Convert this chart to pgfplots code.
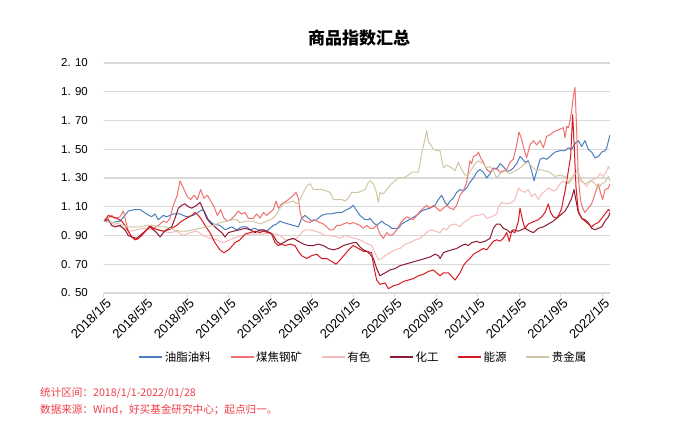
\documentclass[border=0pt]{standalone}
\usepackage{fontspec}
\setmainfont{Liberation Sans}
\newfontfamily\cjk{Noto Sans CJK SC}
\usepackage{pgfplots}
\pgfplotsset{compat=1.18}
\definecolor{cBlue}{RGB}{74,126,187}
\definecolor{cCoal}{RGB}{240,112,112}
\definecolor{cPink}{RGB}{246,186,186}
\definecolor{cDark}{RGB}{139,26,50}
\definecolor{cRed}{RGB}{215,25,32}
\definecolor{cTan}{RGB}{208,198,164}
\definecolor{cGrid}{RGB}{217,217,217}
\definecolor{cFoot}{RGB}{240,60,70}
\begin{document}
\begin{tikzpicture}
\useasboundingbox (-104bp,-130bp) rectangle (574bp,293bp);
\begin{axis}[
  at={(0,0)}, anchor=south west,
  scale only axis, width=506bp, height=230bp,
  xmin=0, xmax=48.75, ymin=0.5, ymax=2.1,
  axis x line*=bottom, axis y line*=left,
  x axis line style={draw=cGrid, line width=1bp},
  y axis line style={draw=none},
  xtick={0,4,8,12,16,20,24,28,32,36,40,44,48},
  xticklabels={2018/1/5,2018/5/5,2018/9/5,2019/1/5,2019/5/5,2019/9/5,2020/1/5,2020/5/5,2020/9/5,2021/1/5,2021/5/5,2021/9/5,2022/1/5},
  ytick={0.5,0.7,0.9,1.1,1.3,1.5,1.7,1.9,2.1},
  yticklabels={0. 50,0. 70,0. 90,1. 10,1. 30,1. 50,1. 70,1. 90,2. 10},
  xtick style={draw=cGrid, line width=1bp},
  ytick style={draw=none},
  tick align=outside, major tick length=4bp,
  ymajorgrids, grid style={draw=cGrid, line width=1.1bp},
  xticklabel style={rotate=45, anchor=north east, font=\fontsize{13bp}{15bp}\selectfont, inner sep=1bp, xshift=2bp},
  yticklabel style={font=\fontsize{11.5bp}{14bp}\selectfont, inner sep=0pt, xshift=-12bp},
  legend style={at={(0.513,-0.278)}, anchor=center, draw=none, fill=none, legend columns=6,
    font=\cjk\fontsize{11.5bp}{14bp}\selectfont,
    /tikz/every even column/.append style={column sep=17bp}},
  legend image code/.code={\draw[#1, line width=1.2bp] (0bp,0bp) -- (23bp,0bp);},
  every axis plot/.append style={line width=1bp, line join=round},
]
\addplot[cBlue] table {
0 1.00
0.8 0.99
1.54 1.00
1.9 1.03
2.34 1.07
2.9 1.08
3.47 1.08
4.11 1.05
4.59 1.03
4.91 1.05
5.23 1.01
5.72 1.04
6.04 1.03
6.68 1.05
7.32 1.05
7.96 1.03
8.61 1.04
9.25 1.07
9.5 1.08
9.73 1.06
10.05 1.01
10.53 0.98
11.18 0.97
11.66 0.94
12.30 0.96
12.78 0.94
13.26 0.96
13.75 0.96
14.07 0.94
14.55 0.95
15.03 0.93
15.35 0.94
15.67 0.93
15.99 0.95
16.31 0.97
16.64 0.98
16.96 1.00
17.28 0.99
17.76 0.98
18.24 0.97
18.72 0.96
19.04 1.02
19.37 1.04
19.69 1.02
20.01 1.00
20.49 1.01
20.97 1.04
21.45 1.05
21.93 1.05
22.42 1.06
22.90 1.06
23.38 1.08
23.70 1.09
24.02 1.11
24.28 1.08
24.66 1.04
25.15 1.01
25.47 1.01
25.63 1.02
25.95 0.99
26.27 0.97
26.59 0.99
26.75 1.00
27.08 0.98
27.40 0.97
27.72 0.95
28.04 0.95
28.36 0.95
28.68 0.98
29.16 1.00
29.64 1.02
30.13 1.04
30.61 1.07
30.93 1.08
31.41 1.09
31.89 1.11
32.21 1.15
32.53 1.18
32.86 1.13
33.08 1.11
33.34 1.14
33.66 1.16
33.98 1.20
34.30 1.22
34.62 1.21
34.94 1.23
35.26 1.27
35.59 1.30
35.91 1.34
36.23 1.36
36.55 1.34
36.87 1.30
37.19 1.33
37.51 1.37
37.83 1.36
38.15 1.40
38.47 1.38
38.80 1.35
39.12 1.35
39.44 1.37
39.76 1.40
40.08 1.45
40.24 1.44
40.56 1.41
40.88 1.42
41.20 1.35
41.43 1.28
41.69 1.35
42.01 1.43
42.33 1.44
42.65 1.43
42.97 1.45
43.45 1.48
43.93 1.49
44.42 1.49
44.74 1.51
45.06 1.50
45.38 1.54
45.70 1.56
46.02 1.52
46.34 1.56
46.66 1.50
46.98 1.48
47.31 1.44
47.63 1.45
47.95 1.48
48.27 1.49
48.43 1.51
48.75 1.60
};
\addlegendentry{油脂油料}
\addplot[cCoal] table {
0 1.00
0.74 1.04
1.06 1.02
1.54 1.03
1.86 1.07
2.34 0.93
2.67 0.89
3.15 0.87
3.63 0.90
4.10 0.94
4.43 0.96
4.75 0.95
5.23 0.97
5.72 1.00
6.04 0.99
6.36 1.02
6.68 1.11
7.06 1.18
7.32 1.28
7.71 1.22
8.03 1.17
8.35 1.15
8.67 1.18
8.99 1.15
9.31 1.22
9.63 1.16
9.96 1.18
10.28 1.14
10.60 1.10
10.92 1.04
11.24 1.08
11.56 1.02
11.88 1.00
12.20 1.01
12.62 1.04
12.94 1.07
13.26 1.05
13.59 1.06
13.91 1.02
14.39 1.02
14.71 1.05
15.03 1.02
15.35 1.06
15.67 1.04
15.99 1.06
16.31 1.08
16.57 1.14
16.80 1.09
17.12 1.12
17.60 1.14
17.92 1.16
18.24 1.18
18.50 1.20
18.72 1.16
18.88 1.07
19.04 1.02
19.37 1.00
19.85 0.99
20.17 1.01
20.49 1.00
21.13 0.98
21.77 0.94
22.10 0.94
22.42 0.97
22.74 0.97
23.06 0.98
23.38 0.99
23.70 0.98
24.02 0.99
24.35 0.98
24.67 0.97
24.99 0.95
25.31 0.97
25.63 0.95
25.95 0.95
26.27 0.97
26.59 0.91
26.91 0.88
27.24 0.92
27.56 0.90
27.88 0.91
28.20 0.94
28.52 0.98
28.84 1.01
29.16 1.03
29.48 1.02
29.81 1.01
30.13 1.04
30.45 1.07
30.77 1.09
31.09 1.11
31.41 1.09
31.73 1.11
32.05 1.09
32.38 1.07
32.70 1.09
33.02 1.11
33.34 1.09
33.66 1.08
33.98 1.11
34.30 1.18
34.62 1.21
34.94 1.27
35.26 1.42
35.42 1.40
35.59 1.45
35.91 1.46
36.07 1.48
36.29 1.44
36.55 1.41
36.87 1.36
37.19 1.34
37.51 1.36
37.83 1.37
38.15 1.34
38.47 1.35
38.80 1.36
39.12 1.41
39.44 1.43
39.76 1.53
39.98 1.62
40.24 1.57
40.47 1.50
40.72 1.44
41.04 1.53
41.37 1.56
41.69 1.53
42.01 1.56
42.33 1.51
42.65 1.59
42.97 1.60
43.29 1.62
43.61 1.63
43.93 1.64
44.25 1.65
44.42 1.58
44.58 1.66
44.74 1.65
44.90 1.70
45.06 1.77
45.22 1.87
45.38 1.93
45.54 1.63
45.70 1.30
45.92 1.14
46.12 1.09
46.34 1.06
46.66 1.09
46.98 1.12
47.31 1.19
47.63 1.26
47.79 1.21
48.04 1.15
48.27 1.22
48.59 1.23
48.75 1.26
};
\addlegendentry{煤焦钢矿}
\addplot[cPink] table {
0 1.00
0.6 0.99
1.22 0.97
1.86 0.95
2.50 0.93
3.15 0.94
3.79 0.95
4.43 0.94
5.07 0.94
5.72 0.93
6.36 0.92
7.00 0.93
7.64 0.90
8.29 0.92
8.93 0.93
9.57 0.90
10.21 0.88
10.85 0.87
11.50 0.85
12.14 0.87
12.78 0.89
13.42 0.90
14.07 0.91
14.71 0.91
15.35 0.91
15.99 0.92
16.48 0.91
16.96 0.90
17.44 0.87
17.92 0.87
18.56 0.88
19.04 0.92
19.37 0.94
19.85 0.94
20.33 0.93
20.81 0.92
21.29 0.90
21.77 0.90
22.42 0.89
22.74 0.88
23.22 0.90
23.70 0.89
24.19 0.88
24.67 0.87
25.15 0.85
25.47 0.84
25.79 0.83
26.11 0.78
26.43 0.73
26.75 0.74
27.08 0.76
27.56 0.78
28.04 0.80
28.52 0.81
29.00 0.84
29.48 0.85
29.97 0.87
30.45 0.88
30.93 0.91
31.25 0.93
31.57 0.94
31.89 0.93
32.38 0.92
32.70 0.95
33.02 0.94
33.34 0.97
33.82 0.98
34.30 0.96
34.62 0.99
35.10 1.01
35.42 1.03
35.75 1.04
36.07 1.04
36.55 1.05
36.87 1.02
37.35 1.03
37.83 1.05
37.99 1.10
38.31 1.13
38.80 1.12
39.28 1.13
39.60 1.15
39.92 1.23
40.24 1.21
40.56 1.20
40.88 1.22
41.20 1.17
41.53 1.19
41.85 1.15
42.17 1.19
42.49 1.21
42.81 1.23
43.29 1.21
43.61 1.22
43.93 1.26
44.25 1.28
44.58 1.26
45.06 1.30
45.38 1.34
45.60 1.36
45.86 1.28
46.18 1.27
46.50 1.24
46.82 1.28
47.15 1.29
47.47 1.30
47.79 1.33
48.11 1.31
48.43 1.35
48.59 1.38
48.75 1.36
};
\addlegendentry{有色}
\addplot[cDark] table {
0 1.00
0.42 1.01
0.74 0.97
1.06 0.96
1.54 0.97
2.02 0.94
2.34 0.90
2.67 0.89
3.15 0.88
3.47 0.90
3.95 0.93
4.43 0.96
4.75 0.94
5.07 0.92
5.40 0.89
5.72 0.92
6.04 0.94
6.52 0.96
6.84 1.02
7.16 1.09
7.48 1.11
7.80 1.12
8.12 1.10
8.45 1.09
8.93 1.11
9.25 1.13
9.57 1.08
9.89 1.02
10.21 0.99
10.69 0.96
11.01 0.94
11.34 0.92
11.66 0.89
11.98 0.92
12.46 0.93
13.10 0.94
13.59 0.95
14.07 0.94
14.55 0.92
15.03 0.94
15.35 0.94
15.67 0.93
15.99 0.92
16.31 0.90
16.64 0.86
16.96 0.84
17.28 0.85
17.76 0.87
18.24 0.88
18.72 0.86
19.21 0.84
19.69 0.83
20.17 0.83
20.65 0.84
21.13 0.83
21.61 0.81
22.10 0.80
22.58 0.81
23.06 0.83
23.54 0.84
24.02 0.85
24.34 0.85
24.66 0.82
24.99 0.80
25.31 0.79
25.63 0.77
25.95 0.74
26.27 0.67
26.59 0.62
27.08 0.64
27.56 0.66
28.04 0.67
28.52 0.69
29.00 0.70
29.48 0.71
29.97 0.72
30.45 0.73
30.93 0.74
31.41 0.75
31.89 0.77
32.21 0.76
32.38 0.74
32.70 0.78
33.02 0.79
33.50 0.80
33.98 0.81
34.46 0.83
34.78 0.84
35.10 0.83
35.42 0.85
35.91 0.86
36.23 0.85
36.71 0.86
37.19 0.88
37.51 0.95
37.83 0.98
38.15 0.98
38.47 0.95
38.80 0.94
39.12 0.92
39.44 0.94
39.92 0.93
40.24 0.94
40.56 0.95
41.04 0.93
41.37 0.92
41.85 0.95
42.33 0.96
42.81 0.98
43.29 1.00
43.77 1.03
44.09 1.05
44.42 1.07
44.74 1.11
45.06 1.16
45.28 1.22
45.48 1.14
45.70 1.06
46.02 1.02
46.34 1.01
46.66 0.99
46.98 0.95
47.31 0.94
47.63 0.95
47.95 0.96
48.27 1.00
48.59 1.03
48.75 1.06
};
\addlegendentry{化工}
\addplot[cRed] table {
0 1.00
0.42 1.04
0.74 1.03
1.22 1.02
1.70 1.00
2.02 0.97
2.34 0.93
2.67 0.89
2.99 0.87
3.31 0.88
3.63 0.90
4.11 0.94
4.43 0.97
4.75 0.95
5.23 0.94
5.72 0.93
6.20 0.94
6.52 0.95
7.00 0.97
7.48 1.00
7.96 1.02
8.45 1.04
8.77 1.06
9.09 1.04
9.41 1.01
9.73 0.97
10.21 0.92
10.69 0.85
11.18 0.80
11.56 0.78
11.98 0.80
12.14 0.81
12.62 0.85
13.10 0.87
13.59 0.91
14.07 0.92
14.55 0.93
15.03 0.92
15.35 0.93
15.83 0.92
16.15 0.91
16.48 0.85
16.80 0.83
17.12 0.84
17.44 0.83
17.92 0.84
18.40 0.83
18.72 0.79
19.04 0.76
19.53 0.74
20.01 0.76
20.49 0.77
20.97 0.74
21.45 0.74
21.93 0.72
22.35 0.70
22.74 0.73
23.22 0.77
23.70 0.81
24.02 0.83
24.51 0.81
24.99 0.79
25.31 0.79
25.79 0.78
25.95 0.70
26.27 0.59
26.59 0.56
27.08 0.57
27.40 0.53
27.88 0.55
28.36 0.56
28.84 0.58
29.32 0.59
29.81 0.60
30.29 0.62
30.77 0.63
31.25 0.65
31.73 0.66
32.05 0.64
32.38 0.62
32.70 0.64
33.18 0.64
33.82 0.59
34.30 0.64
34.62 0.69
34.94 0.72
35.26 0.74
35.60 0.77
36.07 0.79
36.55 0.81
36.87 0.80
37.19 0.83
37.51 0.86
37.83 0.87
38.15 0.86
38.47 0.88
38.80 0.92
39.05 0.86
39.28 0.93
39.60 0.92
39.92 1.00
40.08 1.09
40.34 1.00
40.56 0.95
40.88 0.98
41.20 0.99
41.53 1.00
41.85 1.01
42.17 1.03
42.49 1.06
42.81 1.12
43.03 1.06
43.29 1.03
43.61 1.02
43.87 1.05
44.09 1.09
44.42 1.21
44.74 1.35
44.96 1.45
45.15 1.74
45.31 1.51
45.48 1.23
45.70 1.07
46.02 1.02
46.34 1.00
46.66 0.98
46.98 0.96
47.31 0.98
47.63 0.99
47.95 1.02
48.27 1.05
48.59 1.08
48.75 1.07
};
\addlegendentry{能源}
\addplot[cTan] table {
0 1.00
0.90 0.99
1.54 0.98
2.18 0.96
2.83 0.96
3.47 0.96
4.11 0.97
4.75 0.97
5.40 0.96
6.04 0.96
6.68 0.94
7.32 0.93
7.96 0.93
8.61 0.94
9.25 0.95
9.89 0.96
10.53 0.97
11.18 0.99
11.82 1.00
12.46 1.01
12.78 1.01
13.10 0.99
13.75 1.00
14.39 1.00
15.03 0.98
15.35 0.99
15.67 1.00
15.99 1.01
16.31 1.02
16.64 1.05
16.96 1.09
17.28 1.12
17.76 1.13
18.24 1.14
18.56 1.12
18.88 1.15
19.21 1.20
19.59 1.25
19.85 1.26
20.17 1.22
20.49 1.22
20.97 1.22
21.45 1.21
21.77 1.20
22.10 1.15
22.42 1.15
22.90 1.15
23.22 1.14
23.54 1.16
23.86 1.20
24.18 1.20
24.50 1.20
24.83 1.21
25.15 1.22
25.47 1.27
25.63 1.28
25.95 1.26
26.21 1.21
26.43 1.13
26.59 1.20
26.91 1.19
27.24 1.22
27.56 1.25
27.88 1.27
28.36 1.30
28.84 1.30
29.32 1.32
29.64 1.34
29.97 1.34
30.29 1.34
30.61 1.47
30.83 1.54
31.09 1.63
31.25 1.55
31.41 1.54
31.73 1.50
32.05 1.49
32.38 1.49
32.70 1.37
33.02 1.39
33.50 1.37
33.82 1.35
34.14 1.41
34.46 1.36
34.78 1.32
35.10 1.32
35.42 1.36
35.75 1.40
36.07 1.42
36.55 1.40
36.87 1.37
37.19 1.38
37.51 1.35
37.83 1.30
38.15 1.33
38.64 1.35
39.12 1.33
39.60 1.35
40.08 1.37
40.56 1.40
40.88 1.41
41.20 1.38
41.69 1.35
42.01 1.36
42.49 1.35
42.97 1.34
43.45 1.31
43.93 1.32
44.42 1.31
44.74 1.26
45.06 1.29
45.38 1.33
45.70 1.34
46.02 1.28
46.34 1.26
46.66 1.27
46.98 1.28
47.31 1.26
47.63 1.23
47.95 1.26
48.27 1.27
48.59 1.31
48.75 1.28
};
\addlegendentry{贵金属}
\end{axis}
\node[font=\cjk\bfseries\fontsize{17bp}{19bp}\selectfont, inner sep=0pt] at (255bp,255bp) {商品指数汇总};
\node[anchor=west, text=cFoot, font=\cjk\fontsize{10.6bp}{12bp}\selectfont, inner sep=0pt] at (-64bp,-100bp) {统计区间：2018/1/1-2022/01/28};
\node[anchor=west, text=cFoot, font=\cjk\fontsize{10.6bp}{12bp}\selectfont, inner sep=0pt] at (-64bp,-117bp) {数据来源：Wind，好买基金研究中心；起点归一。};
\end{tikzpicture}
\end{document}
